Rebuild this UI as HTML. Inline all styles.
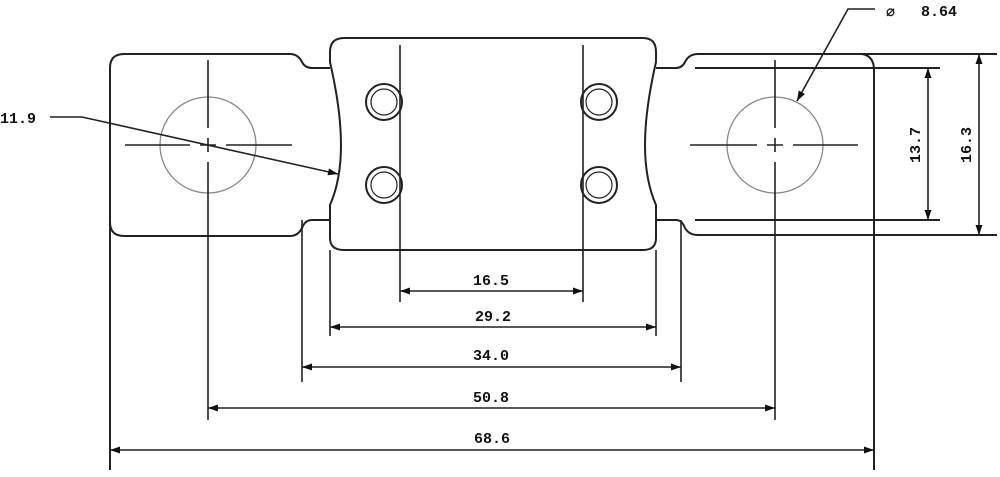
<!DOCTYPE html>
<html><head><meta charset="utf-8"><style>
html,body{margin:0;padding:0;background:#fff;}
svg{display:block}
text{font-family:"Liberation Mono",monospace;font-size:15px;font-weight:bold;fill:#111;}
</style></head><body>
<svg width="1000" height="477" viewBox="0 0 1000 477" xmlns="http://www.w3.org/2000/svg">
<defs>
<marker id="a" viewBox="0 0 10 10" refX="10" refY="5" markerWidth="12" markerHeight="10" orient="auto-start-reverse" markerUnits="userSpaceOnUse">
<path d="M0,1.5 L10,5 L0,8.5 Z" fill="#111"/></marker>
</defs>
<g fill="none" stroke="#222" stroke-width="2">
<path d="M110,236 L110,68 Q110,54 124,54 L290,54 Q298,54 302,62 Q305,68 312,68 L330,68"/>
<path d="M124,236 L290,236 Q298,236 302,228 Q305,220 312,220 L330,220"/>
<path d="M110,222 Q110,236 124,236"/>
<path d="M344,38 L643,38 Q656,38 656,52 L656,62 Q645,110 645,145 Q645,180 656,205 L656,238 Q656,250 643,250 L344,250 Q330,250 330,238 L330,205 Q341,180 341,145 Q341,110 330,62 L330,52 Q330,38 344,38 Z"/>
<path d="M656,68 L676,68 Q682,68 685,62 Q689,54 698,54 L997,54"/>
<path d="M656,220 L676,220 Q682,220 685,228 Q689,235 698,235 L997,235"/>
<path d="M862,54 Q874,56 874,70 L874,470"/>
<path d="M695,68 L940,68"/>
<path d="M695,220 L940,220"/>
<path d="M110,236 L110,470"/>
</g>
<g fill="none" stroke="#222" stroke-width="2">
<circle cx="384" cy="102" r="18"/><circle cx="384" cy="102" r="13" stroke-width="1.2"/>
<circle cx="384" cy="185" r="18"/><circle cx="384" cy="185" r="13" stroke-width="1.2"/>
<circle cx="599" cy="102" r="18"/><circle cx="599" cy="102" r="13" stroke-width="1.2"/>
<circle cx="599" cy="185" r="18"/><circle cx="599" cy="185" r="13" stroke-width="1.2"/>
</g>
<g fill="none" stroke="#888" stroke-width="1.3">
<circle cx="208" cy="145" r="48"/>
<circle cx="775" cy="145" r="48"/>
</g>
<g stroke="#222" stroke-width="1.6" fill="none">
<path d="M208,60 L208,128 M208,138 L208,152 M208,162 L208,420"/>
<path d="M125,145 L190,145 M200,145 L216,145 M226,145 L292,145"/>
<path d="M775,60 L775,128 M775,138 L775,152 M775,162 L775,420"/>
<path d="M690,145 L757,145 M767,145 L783,145 M793,145 L858,145"/>
<path d="M400,45 L400,302"/>
<path d="M583,45 L583,302"/>
<path d="M330,250 L330,336"/>
<path d="M656,250 L656,336"/>
<path d="M302,220 L302,382"/>
<path d="M681,220 L681,382"/>
</g>
<g stroke="#222" stroke-width="1.6" fill="none">
<line x1="400" y1="291" x2="583" y2="291" marker-start="url(#a)" marker-end="url(#a)"/>
<line x1="330" y1="327" x2="656" y2="327" marker-start="url(#a)" marker-end="url(#a)"/>
<line x1="302" y1="367" x2="681" y2="367" marker-start="url(#a)" marker-end="url(#a)"/>
<line x1="208" y1="408" x2="775" y2="408" marker-start="url(#a)" marker-end="url(#a)"/>
<line x1="110" y1="450" x2="874" y2="450" marker-start="url(#a)" marker-end="url(#a)"/>
<line x1="928" y1="68" x2="928" y2="220" marker-start="url(#a)" marker-end="url(#a)"/>
<line x1="979" y1="54" x2="979" y2="235" marker-start="url(#a)" marker-end="url(#a)"/>
<polyline points="50,117 82,117 338,174" marker-end="url(#a)"/>
<polyline points="875,9 848,9 797,101" marker-end="url(#a)"/>
</g>
<text x="491" y="285" text-anchor="middle">16.5</text>
<text x="493" y="321" text-anchor="middle">29.2</text>
<text x="491" y="360" text-anchor="middle">34.0</text>
<text x="491" y="402" text-anchor="middle">50.8</text>
<text x="492" y="443" text-anchor="middle">68.6</text>
<text x="0" y="123">11.9</text>
<text x="886" y="17" font-style="italic" font-size="18">⌀</text>
<text x="921" y="16">8.64</text>
<text transform="translate(920,145) rotate(-90)" text-anchor="middle">13.7</text>
<text transform="translate(971,145) rotate(-90)" text-anchor="middle">16.3</text>
</svg>
</body></html>
